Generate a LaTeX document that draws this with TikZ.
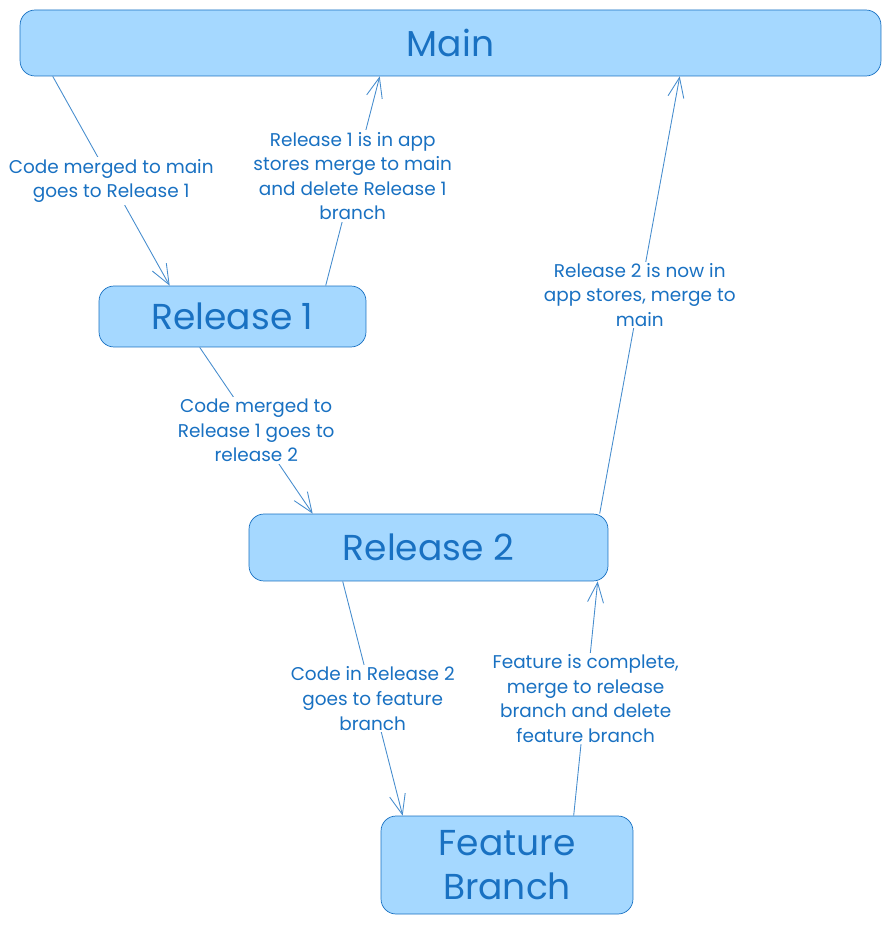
\documentclass[tikz,border=0pt]{standalone}
\usepackage{fontspec}
\setmainfont{Poppins}
\usepackage{tikz}
\usetikzlibrary{arrows.meta, calc}
\definecolor{boxblue}{HTML}{A5D8FF}
\definecolor{inkblue}{HTML}{1971C2}

\begin{document}
\begin{tikzpicture}[
  x=0.02cm, y=-0.02cm,
  box/.style={draw=inkblue, fill=boxblue, rounded corners=0.3cm, inner sep=0pt,
              text=inkblue, font=\fontsize{20.5}{25}\selectfont, align=center},
  flow/.style={draw=inkblue!80, line width=0.5pt, -{Straight Barb[length=4mm, width=3.2mm, line width=0.5pt]}},
  note/.style={fill=white, text=inkblue, inner sep=1pt, align=center, font=\fontsize{10.5}{14}\selectfont},
]
  \useasboundingbox (0,0) rectangle (891,925);

  \node[box, minimum width=17.22cm, minimum height=1.32cm] (main) at (450.5,43) {Main};
  \node[box, minimum width=5.34cm, minimum height=1.22cm] (rel1) at (232.5,316.5) {Release 1};
  \node[box, minimum width=7.18cm, minimum height=1.34cm] (rel2) at (428.5,547.5) {Release 2};
  \node[box, minimum width=5.04cm, minimum height=1.96cm] (feat) at (507,865) {Feature\\Branch};

  \draw[flow] ($(main.south west)+(33,0)$) -- ($(rel1.north west)+(71,0)$)
    node[note, midway] {Code merged to main\\goes to Release 1};
  \draw[flow] ($(rel1.north west)+(227,0)$) -- ($(main.south west)+(360,0)$)
    node[note, midway, yshift=0.1cm] {Release 1 is in app\\stores merge to main\\and delete Release 1\\branch};
  \draw[flow] ($(rel1.south west)+(101,0)$) -- ($(rel2.north west)+(64,0)$)
    node[note, midway] {Code merged to\\Release 1 goes to\\release 2};
  \draw[flow] ($(rel2.north west)+(351,0)$) -- ($(main.south west)+(660,0)$)
    node[note, midway] {Release 2 is now in\\app stores, merge to\\main};
  \draw[flow] ($(rel2.south west)+(94,0)$) -- ($(feat.north west)+(22,0)$)
    node[note, midway] {Code in Release 2\\goes to feature\\branch};
  \draw[flow] ($(feat.north west)+(193,0)$) -- ($(rel2.south west)+(349,0)$)
    node[note, midway] {Feature is complete,\\merge to release\\branch and delete\\feature branch};
\end{tikzpicture}
\end{document}
